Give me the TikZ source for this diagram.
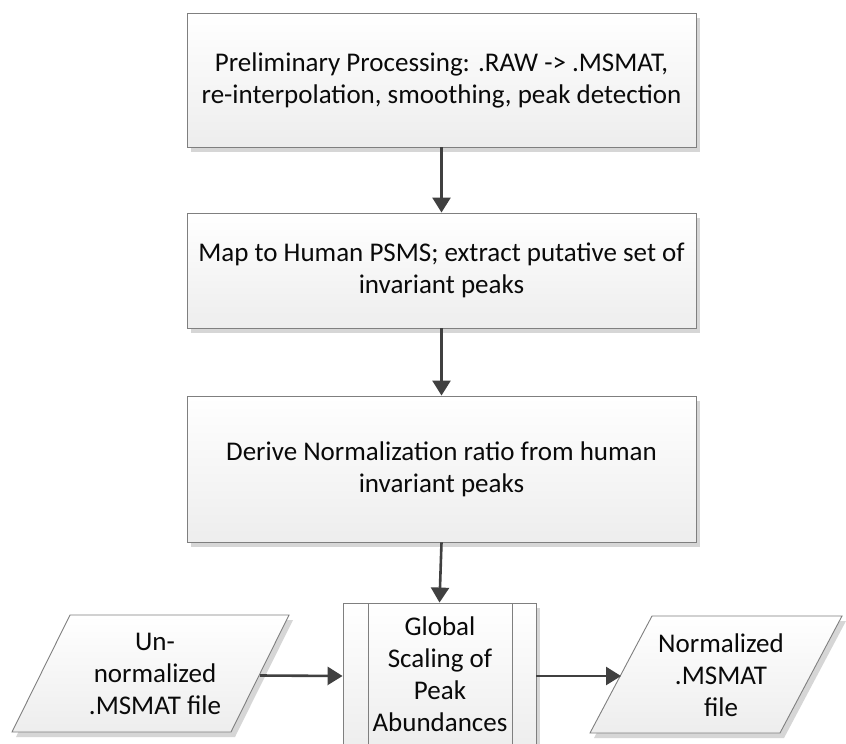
\documentclass[tikz,border=0pt]{standalone}
\usepackage{fontspec}
\setmainfont{Carlito}
\usetikzlibrary{arrows.meta,shadows}
\definecolor{edgec}{HTML}{7F7F7F}
\definecolor{arrowc}{HTML}{404040}
\definecolor{shadowc}{HTML}{D6D6D6}
\definecolor{txtc}{HTML}{0A0A0A}
\begin{document}
\begin{tikzpicture}[x=1pt,y=-1pt,
  boxtxt/.style={font=\fontsize{27}{32}\selectfont, text=txtc, align=center, inner sep=0pt},
  stepbox/.style={rectangle, draw=edgec, line width=0.9pt, top color=white, bottom color=black!7,
    drop shadow={shadow xshift=4pt, shadow yshift=-5pt, fill=shadowc, opacity=1},
    boxtxt, minimum width=509pt},
  iobox/.style={draw=edgec, line width=0.9pt, top color=white, bottom color=black!7},
  ioshadow/.style={fill=shadowc},
  flow/.style={draw=arrowc, line width=2.6pt, -{Triangle[length=15pt,width=18pt]}}
]
\clip (0,0) rectangle (846,744);
\fill[white] (0,0) rectangle (846,744);

% main process boxes
\node[stepbox, minimum height=134pt] (b1) at (441.5,80)
  {Preliminary Processing: .RAW -> .MSMAT,\\re-interpolation, smoothing, peak detection};
\node[stepbox, minimum height=115pt] (b2) at (441.5,270.5)
  {Map to Human PSMS; extract putative set of\\invariant peaks};
\node[stepbox, minimum height=146pt] (b3) at (441.5,469)
  {Derive Normalization ratio from human\\invariant peaks};

% predefined process box
\node[stepbox, minimum width=193pt, minimum height=146pt] (gp) at (439.5,676) {};
\draw[edgec, line width=0.9pt] (368,603) -- (368,749);
\draw[edgec, line width=0.9pt] (512,603) -- (512,749);
\node[boxtxt] (gpt) at (440,674) {Global\\Scaling of\\Peak\\Abundances};

% left data parallelogram
\coordinate (la) at (70,615);
\coordinate (lb) at (289,615);
\coordinate (lc) at (231,732);
\coordinate (ld) at (12,732);
\coordinate (lout) at (260,675.5);
\fill[ioshadow] ([shift={(4,5)}]la) -- ([shift={(4,5)}]lb) -- ([shift={(4,5)}]lc) -- ([shift={(4,5)}]ld) -- cycle;
\path[iobox] (la) -- (lb) -- (lc) -- (ld) -- cycle;
\node[boxtxt] (lt) at (155,674) {Un-\\normalized\\.MSMAT file};

% right data parallelogram
\coordinate (ra) at (652,616);
\coordinate (rb) at (842,616);
\coordinate (rc) at (780,733);
\coordinate (rd) at (590,733);
\coordinate (rin) at (621,676);
\fill[ioshadow] ([shift={(4,5)}]ra) -- ([shift={(4,5)}]rb) -- ([shift={(4,5)}]rc) -- ([shift={(4,5)}]rd) -- cycle;
\path[iobox] (ra) -- (rb) -- (rc) -- (rd) -- cycle;
\node[boxtxt] (rt) at (721,675) {Normalized\\.MSMAT\\file};

% connectors
\draw[flow] (b1.south) -- (b2.north);
\draw[flow] (b2.south) -- (b3.north);
\draw[flow] (b3.south) -- (gp.north);
\draw[flow] (lout) -- (gp.west);
\draw[flow] (gp.east) -- (rin);
\end{tikzpicture}
\end{document}
